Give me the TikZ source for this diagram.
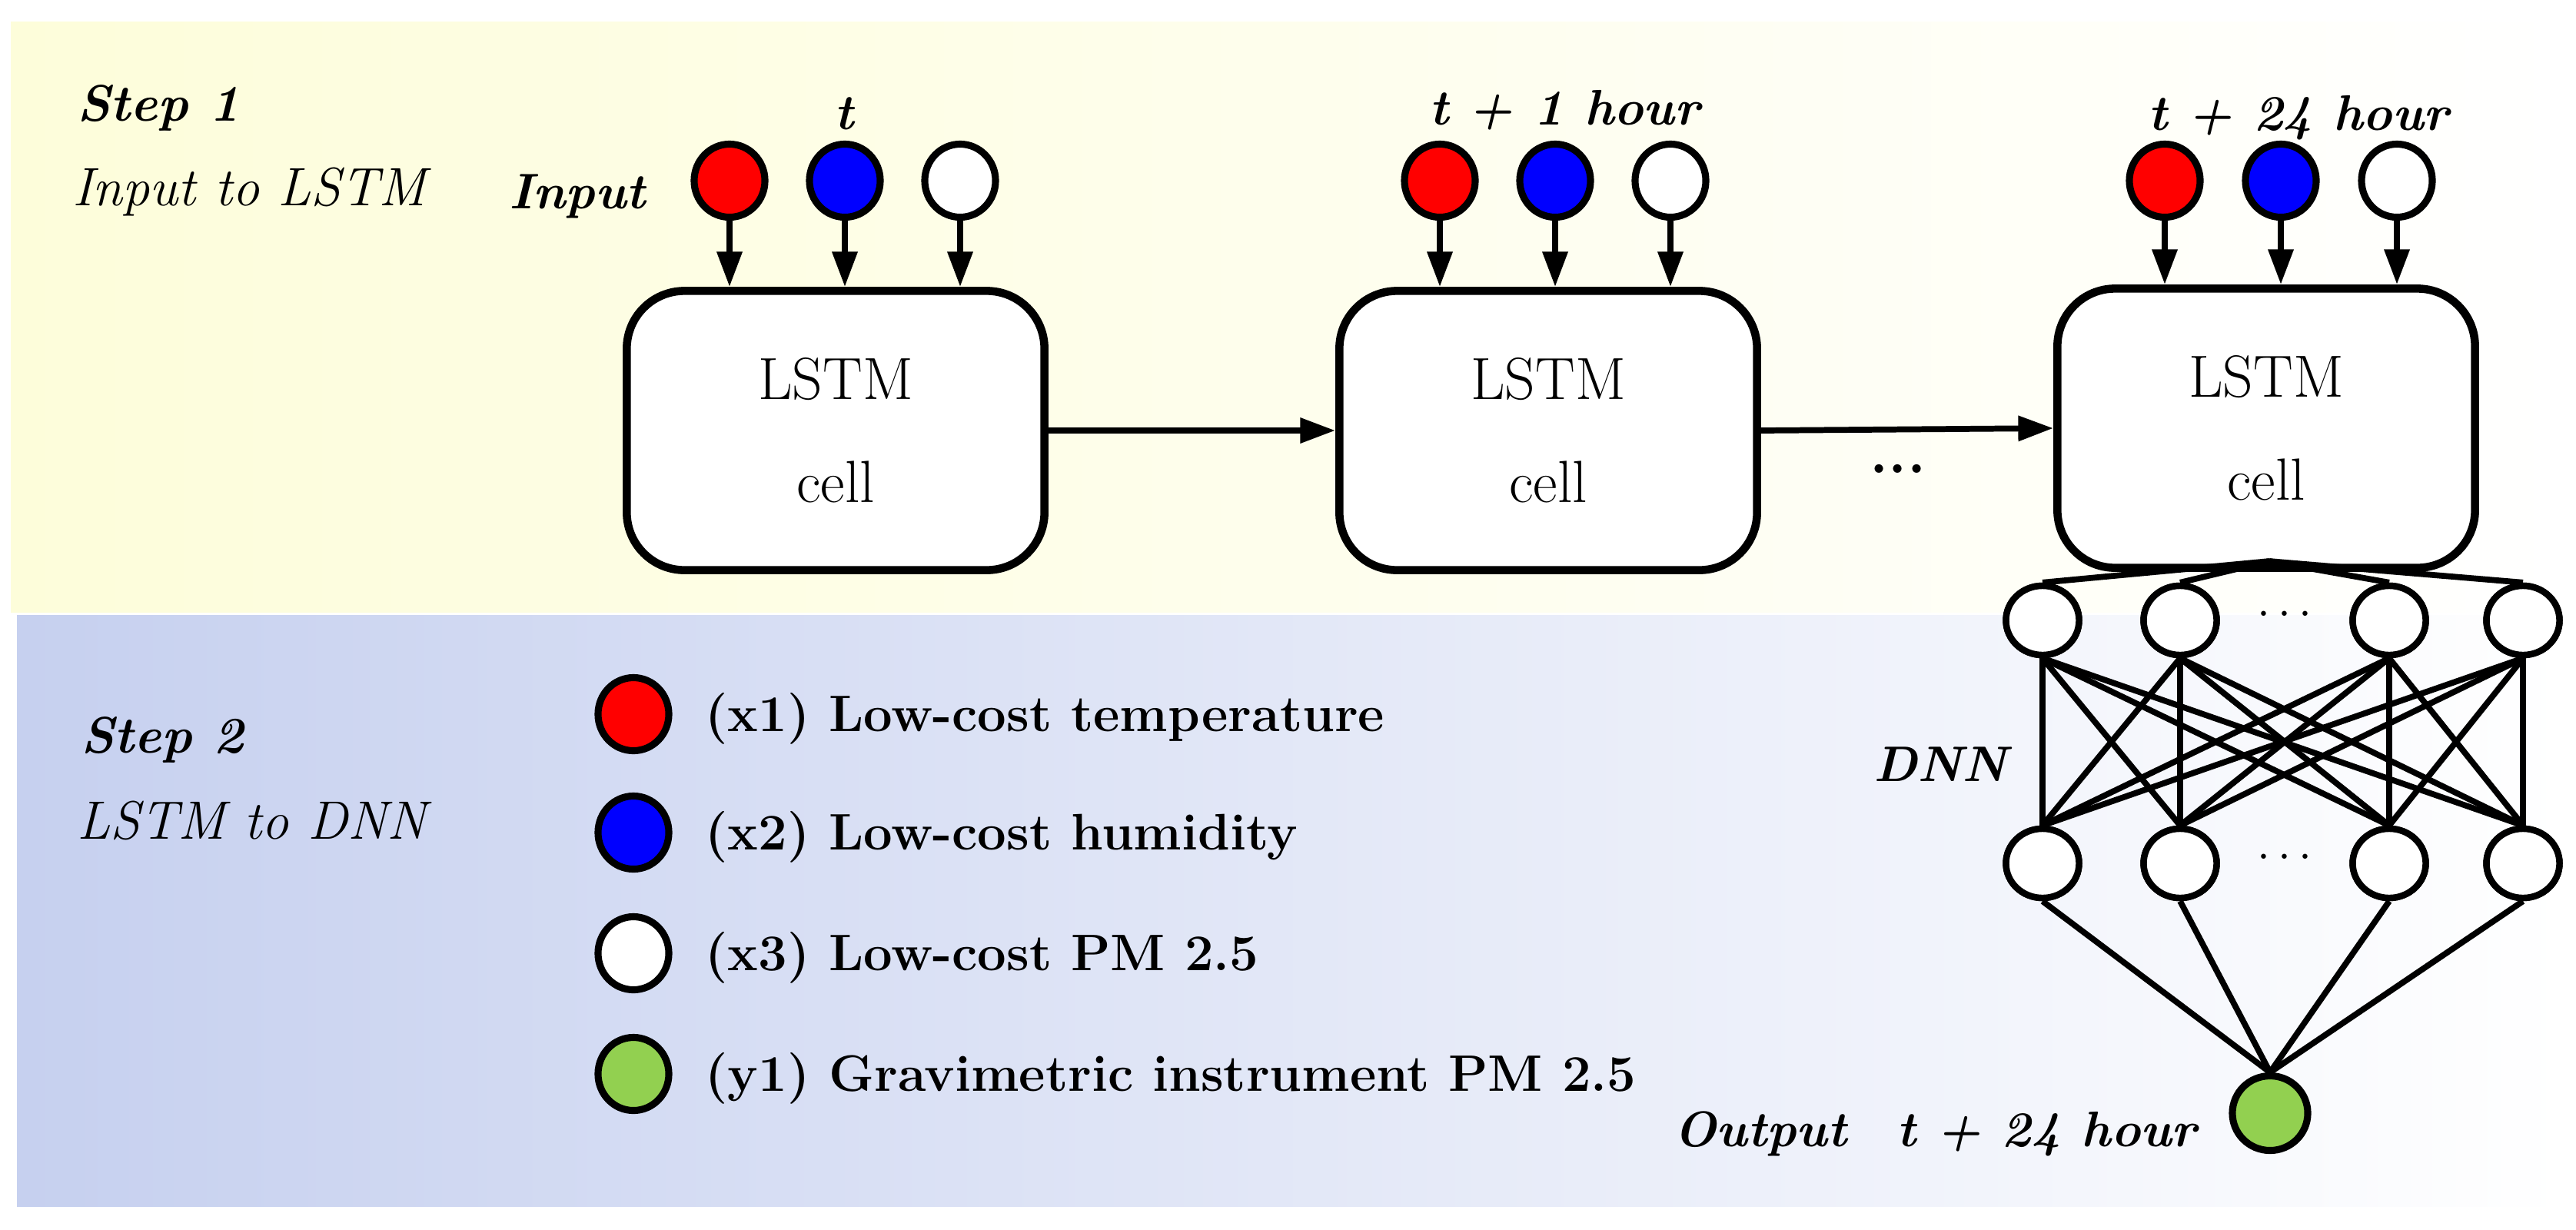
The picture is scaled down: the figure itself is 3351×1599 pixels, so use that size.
\documentclass[tikz,border=0pt]{standalone}
\usetikzlibrary{arrows.meta,shapes.geometric}
\definecolor{ylw}{HTML}{FDFDDA}
\definecolor{blu}{HTML}{C6D0EF}
\definecolor{inred}{HTML}{FF0000}
\definecolor{inblue}{HTML}{0000FF}
\definecolor{ingreen}{HTML}{92D050}
\begin{document}
\begin{tikzpicture}[x=0.01cm,y=-0.01cm,
  lw/.style={line width=2.2pt},
  inp/.style={ellipse,draw,line width=2.6pt,minimum width=0.92cm,minimum height=0.95cm,inner sep=0pt},
  cell/.style={draw,line width=3pt,rounded corners=0.75cm,fill=white,minimum width=5.43cm,minimum height=3.63cm,align=center,font=\fontsize{22}{26}\selectfont},
  arr/.style={lw,-{Triangle[length=13pt,width=9pt]}},
  neu/.style={ellipse,draw,line width=2.4pt,fill=white,minimum width=0.95cm,minimum height=0.9cm,inner sep=0pt},
  lbl/.style={font=\fontsize{18.5}{22}\selectfont\bfseries\itshape},
  leg/.style={font=\fontsize{19}{23}\selectfont\bfseries,anchor=west},
  stp/.style={font=\fontsize{20}{24}\selectfont\itshape,anchor=west}]
\useasboundingbox (0,0) rectangle (3351,1599);
\fill[white] (0,0) rectangle (3351,1599);
\shade[left color=ylw,right color=white] (14,28) rectangle (3340,796);
\shade[left color=blu,right color=white] (22,800) rectangle (3340,1569);
% steps
\node[stp,font=\fontsize{19}{23}\selectfont\bfseries\itshape] (s1) at (88,140) {Step 1};
\node[stp] (s1b) at (82,250) {Input to LSTM};
\node[stp,font=\fontsize{19}{23}\selectfont\bfseries\itshape] (s2) at (93,962) {Step 2};
\node[stp] (s2b) at (88,1067) {LSTM to DNN};
% LSTM cells
\node[cell] (c1) at (1087,560) {LSTM\\[12pt]cell};
\node[cell] (c2) at (2014,560) {LSTM\\[12pt]cell};
\node[cell] (c3) at (2948,557) {LSTM\\[12pt]cell};
\draw[arr] (c1.east) -- (c2.west);
\draw[arr] (c2.east) -- (c3.west);
\node[font=\fontsize{22}{26}\selectfont\bfseries] (dots) at (2469,610) {...};
% inputs
\foreach \g/\xa/\xb/\xc in {1/949/1099/1249,2/1873/2023/2173,3/2816/2967/3118}{
  \node[inp,fill=inred] (r\g) at (\xa,235) {};
  \node[inp,fill=inblue] (b\g) at (\xb,235) {};
  \node[inp,fill=white] (w\g) at (\xc,235) {};
  \draw[arr] (r\g) -- (r\g |- c\g.north);
  \draw[arr] (b\g) -- (b\g |- c\g.north);
  \draw[arr] (w\g) -- (w\g |- c\g.north);
}
\node[lbl] (tl1) at (1098,148) {t};
\node[lbl] (tl2) at (2035,143) {t + 1 hour};
\node[lbl] (tl3) at (2990,153) {t + 24 hour};
\node[lbl,anchor=east] (inl) at (852,255) {Input};
% legend
\node[inp,fill=inred] (l1) at (824,929) {};
\node[inp,fill=inblue] (l2) at (824,1083) {};
\node[inp,fill=white] (l3) at (824,1240) {};
\node[inp,fill=ingreen] (l4) at (824,1397) {};
\node[leg] (t1) at (905,935) {(x1) Low-cost temperature};
\node[leg] (t2) at (905,1089) {(x2) Low-cost humidity};
\node[leg] (t3) at (905,1246) {(x3) Low-cost PM 2.5};
\node[leg] (t4) at (905,1403) {(y1) Gravimetric instrument PM 2.5};
% DNN
\coordinate (ap) at (2952,730);
\foreach \i/\x in {1/2657,2/2836,3/3108,4/3282}{
  \node[neu] (h\i) at (\x,807) {};
  \node[neu] (k\i) at (\x,1123) {};
}
\node[inp,fill=ingreen,minimum width=0.98cm,minimum height=0.97cm] (out) at (2953,1448) {};
\foreach \i in {1,...,4}{
  \draw[lw] (ap) -- (h\i.north);
  \foreach \j in {1,...,4}{\draw[lw] (h\i.south) -- (k\j.north);}
  \draw[lw] (k\i.south) -- (out.north);
}
\foreach \i/\x in {1/2657,2/2836,3/3108,4/3282}{
  \node[neu] at (\x,807) {};
  \node[neu] at (\x,1123) {};
}
\node[font=\fontsize{18}{20}\selectfont] (hd1) at (2972,800) {$\cdots$};
\node[font=\fontsize{18}{20}\selectfont] (hd2) at (2972,1116) {$\cdots$};
\node[lbl] (dnn) at (2524,994) {DNN};
\node[lbl,anchor=east] (outl) at (2870,1475) {Output\quad t + 24 hour};
\end{tikzpicture}
\end{document}
